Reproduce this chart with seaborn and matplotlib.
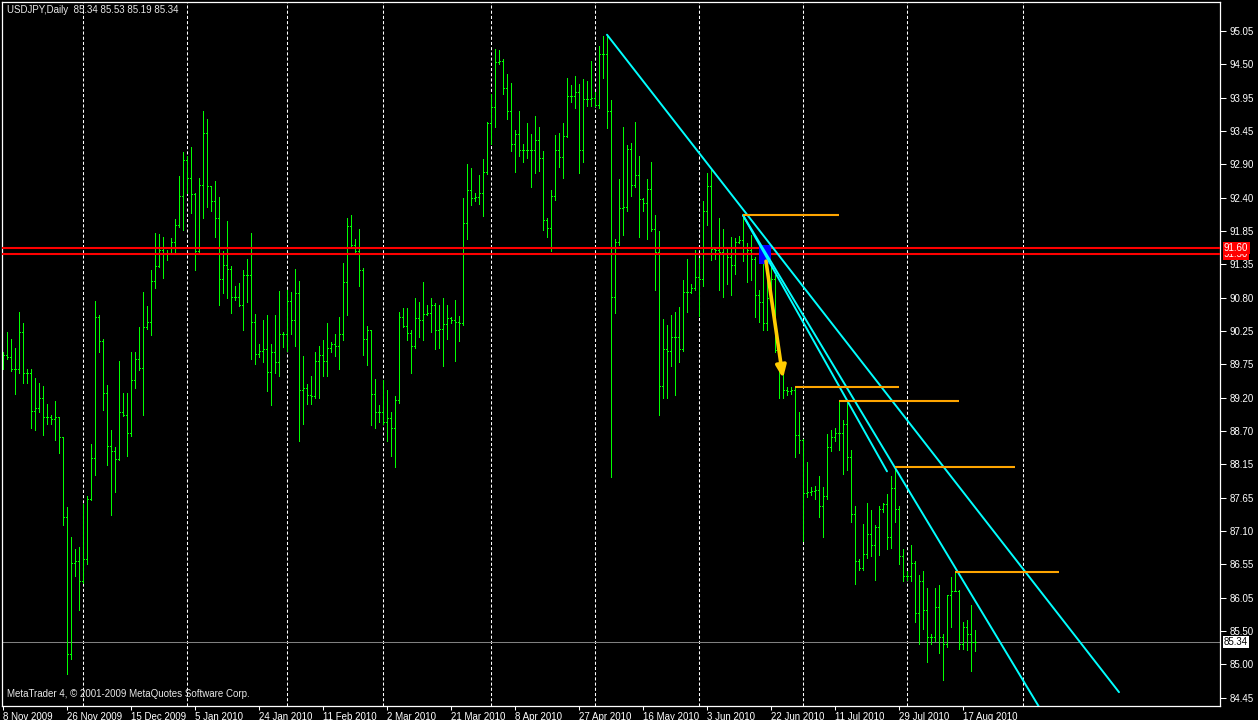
import numpy as np
import pandas as pd
import matplotlib
matplotlib.use("Agg")
import matplotlib.pyplot as plt
import matplotlib.transforms as mtransforms
from matplotlib.patches import Rectangle
import seaborn as sns

# USDJPY daily bars, 8 Nov 2009 .. 20 Aug 2010 (MT4 feed with Sunday bars)
highs = [89.94, 90.26, 90.15, 90.01, 90.59, 90.41, 89.68, 89.68, 89.54, 89.46,
         89.41, 89.12, 88.95, 89.17, 88.92, 88.60, 87.48, 87.00, 86.81, 86.84,
         87.53, 87.66, 88.48, 90.75, 90.53, 90.15, 89.43, 88.70, 88.44, 89.81,
         89.30, 89.30, 89.94, 89.95, 90.35, 90.90, 90.68, 91.25, 91.84, 91.83,
         91.77, 91.57, 91.76, 92.06, 92.75, 93.12, 93.07, 93.20, 92.48, 92.72,
         93.77, 93.65, 92.59, 92.66, 92.41, 91.55, 92.03, 91.32, 90.99, 91.04,
         91.25, 91.43, 91.84, 90.55, 90.08, 90.45, 90.53, 90.08, 90.53, 90.92,
         90.26, 90.94, 90.90, 91.26, 91.08, 89.88, 89.44, 89.56, 89.94, 90.05,
         90.13, 90.41, 90.10, 90.23, 90.50, 91.36, 92.08, 92.13, 91.74, 91.90,
         91.28, 90.36, 90.29, 89.51, 89.10, 89.50, 89.35, 88.99, 89.25, 90.58,
         90.65, 90.65, 90.30, 90.81, 90.74, 91.06, 90.70, 90.81, 90.72, 90.70,
         90.81, 90.70, 90.50, 90.77, 90.52, 92.40, 92.94, 92.87, 92.47, 92.76,
         93.01, 93.61, 94.05, 94.76, 94.74, 94.61, 94.36, 94.23, 93.47, 93.77,
         93.25, 93.59, 93.41, 93.70, 93.52, 93.14, 92.08, 92.52, 93.39, 93.43,
         93.59, 94.30, 94.19, 94.34, 94.21, 94.29, 94.25, 94.57, 94.08, 94.81,
         94.97, 94.99, 93.95, 91.75, 92.70, 93.52, 93.23, 93.27, 93.61, 93.07,
         92.40, 92.69, 92.96, 92.13, 91.87, 90.47, 90.37, 90.53, 90.59, 90.66,
         91.09, 91.43, 91.03, 91.57, 91.44, 92.34, 92.79, 92.86, 91.61, 92.07,
         91.90, 91.61, 91.77, 91.76, 91.79, 92.12, 91.68, 91.81, 91.46, 90.94,
         91.46, 91.39, 91.32, 91.17, 89.94, 89.72, 89.39, 89.39, 89.39, 88.99,
         88.57, 88.20, 87.80, 87.81, 87.97, 87.80, 88.64, 88.70, 88.74, 89.17,
         88.86, 89.14, 88.39, 87.50, 86.66, 87.21, 87.55, 87.43, 87.19, 87.50,
         87.55, 87.69, 87.97, 88.12, 87.50, 86.81, 86.46, 86.88, 86.62, 86.41,
         86.46, 86.19, 85.46, 86.19, 86.24, 85.46, 86.09, 86.37, 86.45, 86.17,
         85.66, 85.68, 85.92, 85.53]
lows = [89.68, 89.83, 89.65, 89.28, 89.61, 89.46, 89.46, 88.74, 88.70, 88.99,
        88.63, 88.81, 88.81, 88.55, 88.34, 87.19, 84.83, 85.06, 86.38, 85.85,
        86.28, 86.57, 87.59, 87.99, 89.95, 89.03, 88.15, 87.35, 87.72, 88.23,
        88.93, 88.30, 88.61, 89.37, 89.66, 88.94, 90.31, 90.21, 90.96, 91.30,
        91.12, 91.41, 91.50, 91.52, 91.94, 91.89, 92.48, 92.16, 91.25, 91.52,
        92.07, 92.25, 92.19, 91.77, 90.70, 90.88, 90.81, 90.57, 90.77, 90.68,
        90.29, 90.74, 89.84, 89.75, 89.86, 89.79, 89.33, 89.11, 89.61, 89.57,
        90.03, 89.97, 90.24, 90.05, 88.53, 88.81, 89.12, 89.12, 89.21, 89.22,
        89.57, 89.56, 89.95, 89.88, 89.68, 90.13, 90.53, 91.61, 91.54, 90.99,
        89.90, 89.74, 88.79, 88.74, 88.84, 88.81, 88.53, 88.30, 88.12, 89.14,
        90.34, 90.14, 89.62, 90.01, 90.19, 90.14, 90.53, 90.26, 89.99, 90.01,
        89.73, 90.15, 90.41, 89.81, 90.12, 90.37, 91.74, 92.28, 92.34, 92.30,
        92.11, 92.77, 93.26, 93.52, 94.52, 94.05, 93.65, 93.14, 92.80, 93.07,
        92.96, 93.03, 92.57, 92.79, 92.83, 91.89, 91.78, 91.55, 92.37, 92.88,
        92.72, 93.36, 93.92, 93.83, 92.79, 92.96, 93.85, 93.85, 93.85, 93.82,
        94.30, 93.50, 87.96, 90.56, 91.65, 91.81, 92.19, 92.43, 92.57, 91.77,
        92.19, 91.74, 91.87, 90.93, 88.95, 89.21, 89.21, 89.72, 89.27, 89.79,
        89.97, 90.58, 90.88, 90.94, 90.52, 90.99, 91.97, 91.41, 91.43, 90.94,
        90.82, 91.03, 90.85, 91.19, 91.68, 91.39, 91.06, 91.09, 90.50, 90.43,
        90.30, 90.30, 90.74, 89.95, 89.21, 89.21, 89.27, 89.28, 88.28, 88.34,
        86.94, 87.64, 87.68, 87.61, 87.32, 87.01, 87.61, 88.37, 88.54, 88.39,
        88.01, 88.07, 87.24, 86.26, 86.48, 86.48, 86.68, 86.71, 86.33, 86.72,
        87.40, 86.82, 86.83, 87.24, 86.57, 86.31, 86.33, 86.31, 85.66, 85.31,
        85.55, 85.02, 85.31, 85.35, 85.17, 84.73, 85.26, 85.57, 86.14, 85.22,
        85.22, 85.21, 84.88, 85.19]
closes = [89.90, 89.86, 89.68, 89.68, 90.26, 89.62, 89.61, 89.01, 89.05, 89.21,
          88.92, 88.92, 88.88, 88.92, 88.59, 87.33, 85.15, 86.60, 86.62, 86.30,
          86.65, 87.61, 88.26, 90.50, 90.12, 89.30, 88.45, 88.37, 88.25, 89.00,
          88.95, 88.66, 89.50, 89.84, 89.70, 90.34, 90.42, 91.08, 91.32, 91.57,
          91.50, 91.52, 91.70, 91.97, 92.43, 93.00, 92.72, 92.46, 91.55, 92.60,
          93.43, 92.59, 92.34, 92.08, 91.10, 91.33, 91.26, 90.82, 90.82, 90.70,
          91.17, 91.17, 90.42, 89.92, 89.97, 89.99, 89.63, 89.95, 89.78, 90.24,
          90.23, 90.75, 90.45, 90.88, 89.35, 89.38, 89.27, 89.24, 89.81, 89.90,
          89.81, 90.01, 90.07, 90.05, 90.24, 91.06, 91.95, 91.65, 91.55, 91.25,
          90.15, 90.29, 89.28, 89.00, 89.00, 88.84, 88.90, 88.74, 89.18, 90.50,
          90.36, 90.25, 90.05, 90.48, 90.45, 90.55, 90.56, 90.70, 90.30, 90.31,
          90.39, 90.48, 90.45, 90.42, 90.40, 91.99, 92.52, 92.40, 92.41, 92.48,
          92.80, 93.59, 93.84, 94.56, 94.58, 94.15, 93.77, 93.25, 93.41, 93.16,
          93.16, 93.16, 93.16, 93.32, 93.03, 92.05, 91.92, 92.43, 93.16, 93.04,
          93.38, 94.01, 94.01, 94.08, 93.16, 93.97, 93.97, 93.99, 93.88, 94.68,
          94.68, 93.77, 90.82, 91.70, 92.23, 92.25, 93.18, 92.60, 92.76, 92.38,
          92.32, 92.53, 91.90, 91.54, 89.41, 89.99, 89.97, 90.19, 90.19, 90.00,
          90.90, 90.90, 90.96, 91.14, 91.10, 92.19, 92.59, 91.58, 91.57, 91.54,
          91.50, 91.46, 91.33, 91.70, 91.72, 91.62, 91.57, 91.43, 90.85, 90.74,
          90.41, 90.80, 91.10, 89.98, 89.68, 89.35, 89.32, 89.35, 88.63, 88.55,
          87.70, 87.72, 87.73, 87.75, 87.50, 87.65, 88.44, 88.60, 88.66, 88.66,
          88.81, 88.28, 87.37, 86.62, 86.52, 86.73, 87.06, 86.88, 87.17, 87.45,
          87.53, 87.01, 87.79, 87.45, 86.70, 86.38, 86.38, 86.59, 85.80, 86.30,
          85.84, 85.42, 85.42, 85.90, 85.42, 85.30, 86.08, 86.15, 86.15, 85.31,
          85.57, 85.46, 85.34, 85.34]
opens = [89.80, 89.90, 89.86, 89.68, 89.68, 90.26, 89.62, 89.61, 89.01, 89.05,
         89.21, 88.92, 88.92, 88.88, 88.92, 88.59, 87.33, 85.15, 86.60, 86.62,
         86.30, 86.65, 87.61, 88.26, 90.50, 90.12, 89.30, 88.45, 88.37, 88.25,
         89.00, 88.95, 88.66, 89.50, 89.84, 89.70, 90.34, 90.42, 91.08, 91.32,
         91.57, 91.50, 91.52, 91.70, 91.97, 92.43, 93.00, 92.72, 92.46, 91.55,
         92.60, 93.43, 92.59, 92.34, 92.08, 91.10, 91.33, 91.26, 90.82, 90.82,
         90.70, 91.17, 91.17, 90.42, 89.92, 89.97, 89.99, 89.63, 89.95, 89.78,
         90.24, 90.23, 90.75, 90.45, 90.88, 89.35, 89.38, 89.27, 89.24, 89.81,
         89.90, 89.81, 90.01, 90.07, 90.05, 90.24, 91.06, 91.95, 91.65, 91.55,
         91.25, 90.15, 90.29, 89.28, 89.00, 89.00, 88.84, 88.90, 88.74, 89.18,
         90.50, 90.36, 90.25, 90.05, 90.48, 90.45, 90.55, 90.56, 90.70, 90.30,
         90.31, 90.39, 90.48, 90.45, 90.42, 90.40, 91.99, 92.52, 92.40, 92.41,
         92.48, 92.80, 93.59, 93.84, 94.56, 94.58, 94.15, 93.77, 93.25, 93.41,
         93.16, 93.16, 93.16, 93.16, 93.32, 93.03, 92.05, 91.92, 92.43, 93.16,
         93.04, 93.38, 94.01, 94.01, 94.08, 93.16, 93.97, 93.97, 93.99, 93.88,
         94.68, 94.68, 93.77, 90.82, 91.70, 92.23, 92.25, 93.18, 92.60, 92.76,
         92.38, 92.32, 92.53, 91.90, 91.54, 89.41, 89.99, 89.97, 90.19, 90.19,
         90.00, 90.90, 90.90, 90.96, 91.14, 91.10, 92.19, 92.59, 91.58, 91.57,
         91.54, 91.50, 91.46, 91.33, 91.70, 91.72, 91.62, 91.57, 91.43, 90.85,
         90.74, 90.41, 90.80, 91.10, 89.94, 89.68, 89.35, 89.32, 89.35, 88.63,
         88.55, 87.70, 87.72, 87.73, 87.75, 87.50, 87.65, 88.44, 88.60, 88.66,
         88.66, 88.81, 88.28, 87.37, 86.62, 86.52, 86.73, 87.06, 86.88, 87.17,
         87.45, 87.53, 87.01, 87.79, 87.45, 86.70, 86.38, 86.38, 86.59, 85.80,
         86.30, 85.84, 85.42, 85.42, 85.90, 85.42, 85.30, 86.08, 86.15, 86.15,
         85.31, 85.57, 85.46, 85.34]

# drawn objects (bar index, price)
red_levels = [91.60, 91.50]
bid_price = 85.34
trend_x = [[151, 279], [185, 262], [185, 221]]
trend_y = [[94.99, 84.54], [92.12, 83.99], [92.12, 88.05]]
orange_x0 = [185, 198, 209, 223, 238]
orange_x1 = [209, 224, 239, 253, 264]
orange_y = [92.12, 89.39, 89.17, 88.12, 86.45]
arrow_from = (190.75, 91.39)
arrow_to = (195.0, 89.53)
box_x = [189.0, 192.0]
box_y = [91.35, 91.65]

price_labels = ["95.05", "94.50", "93.95", "93.45", "92.90", "92.40", "91.85",
                "91.35", "90.80", "90.25", "89.75", "89.20", "88.70", "88.15",
                "87.65", "87.10", "86.55", "86.05", "85.50", "85.00", "84.45"]

dates = pd.bdate_range("2009-11-08", "2010-08-20", freq="C",
                       weekmask="Sun Mon Tue Wed Thu Fri",
                       holidays=["2009-12-25", "2010-01-01"])
idx = np.arange(len(closes))

sns.set_theme(style="dark", rc={"axes.facecolor": "black", "figure.facecolor": "black"})
plt.rcParams["font.family"] = ["Liberation Sans", "DejaVu Sans"]

W, H = 1258, 720
fig = plt.figure(figsize=(W / 100, H / 100), dpi=100)
ax = fig.add_axes([2 / W, 14 / H, 1218 / W, 704 / H])
ax.set_facecolor("black")

# month separators (future bars are one per calendar day in MT4)
month_starts = [i for i in range(1, len(dates)) if dates[i].month != dates[i - 1].month]
month_starts.append(len(dates) - 1 + (pd.Timestamp("2010-09-01") - dates[-1]).days)
for m in month_starts:
    ax.axvline(m, color="white", lw=0.75, ls=(0, (3, 2)), zorder=1)

# OHLC bars, 1 px wide
green = "#00FF00"
bar_lw = 0.55
ax.vlines(idx, lows, highs, color=green, lw=bar_lw, antialiased=False, zorder=2)
ax.hlines(opens, idx - 0.3, idx, color=green, lw=bar_lw, antialiased=False, zorder=2)
ax.hlines(closes, idx, idx + 0.3, color=green, lw=bar_lw, antialiased=False, zorder=2)

for lv in red_levels:
    ax.axhline(lv, color="#FF0000", lw=1.5, zorder=3)
ax.axhline(bid_price, color="#808080", lw=0.75, zorder=1.5)

ax.add_patch(Rectangle((box_x[0], box_y[0]), box_x[1] - box_x[0], box_y[1] - box_y[0],
                       facecolor="#0000FF", edgecolor="none", zorder=3.5))

for tx, ty in zip(trend_x, trend_y):
    sns.lineplot(x=tx, y=ty, ax=ax, color="#00FFFF", lw=1.4, zorder=4)

ax.hlines(orange_y, orange_x0, orange_x1, color="#FFA500", lw=1.5, zorder=4)

ax.annotate("", xy=arrow_to, xytext=arrow_from, zorder=5,
            arrowprops=dict(arrowstyle="-|>,head_length=0.6,head_width=0.25",
                            color="#FFCC00", lw=2.6, shrinkA=0, shrinkB=0))

ax.set_xlim(-0.25, 304.25)
ax.set_ylim(84.32, 95.51)

# axes, ticks
for s in ax.spines.values():
    s.set_color("white")
    s.set_linewidth(0.9)
    s.set_visible(True)

tick_pos = list(range(0, len(dates), 16))
ax.set_xticks(tick_pos)
ax.set_xticklabels([f"{dates[i].day} {dates[i]:%b %Y}" for i in tick_pos], ha="left")
ax.tick_params(axis="x", colors="white", length=3, width=0.75, pad=1, labelsize=7,
               bottom=True, direction="out")

ax.yaxis.tick_right()
ax.set_yticks(np.linspace(95.05, 84.45, len(price_labels)))
ax.set_yticklabels(price_labels)
ax.tick_params(axis="y", colors="white", length=4, width=0.75, pad=3, labelsize=7,
               right=True, left=False, direction="out")
ax.set_xlabel("")
ax.set_ylabel("")
ax.grid(False)

tr = mtransforms.blended_transform_factory(ax.transAxes, ax.transData)
for lv, txt in [(91.50, "91.50"), (91.60, "91.60")]:
    ax.text(1.0 + 4 / 1218, lv, txt, transform=tr, ha="left", va="center", fontsize=7,
            color="white", clip_on=False, zorder=6,
            bbox=dict(boxstyle="square,pad=0.12", fc="#FF0000", ec="none"))
ax.text(1.0 + 4 / 1218, bid_price, "85.34", transform=tr, ha="left", va="center",
        fontsize=7, color="black", clip_on=False, zorder=6,
        bbox=dict(boxstyle="square,pad=0.12", fc="white", ec="none"))

fig.text(7 / W, 1 - 10 / H, "USDJPY,Daily  85.34 85.53 85.19 85.34", color="#E8E8E8",
         fontsize=7, va="center", ha="left")
fig.text(7 / W, 1 - 694 / H, "MetaTrader 4, © 2001-2009 MetaQuotes Software Corp.",
         color="#E8E8E8", fontsize=7, va="center", ha="left")

fig.savefig("out.png", dpi=100, facecolor="black")
